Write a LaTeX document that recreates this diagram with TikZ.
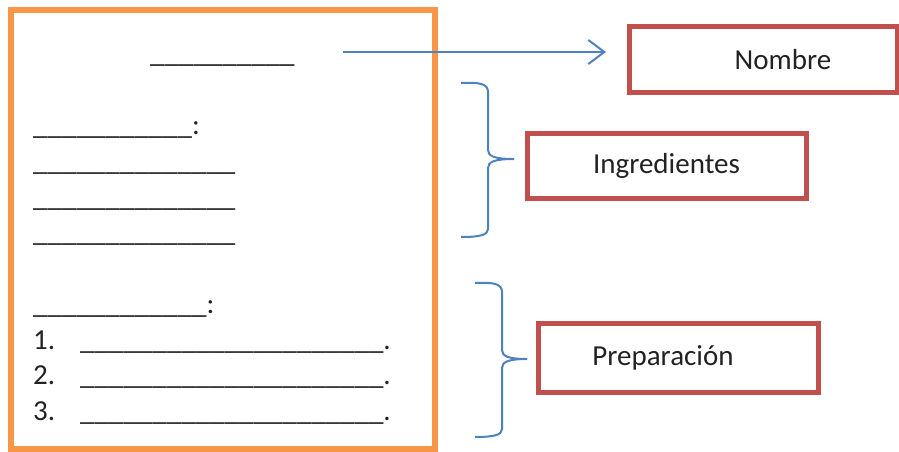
\documentclass[tikz,border=0pt]{standalone}
\usepackage{fontspec}
\setmainfont{Carlito}
\usetikzlibrary{arrows.meta}
\definecolor{frameorange}{HTML}{F79646}
\definecolor{boxred}{HTML}{C0504D}
\definecolor{linkblue}{HTML}{4F81BD}
\definecolor{ink}{HTML}{222222}
\tikzset{
  txt/.style={anchor=base west, inner sep=0pt, text=ink, font=\fontsize{29}{35}\selectfont},
  labelbox/.style={draw=boxred, line width=5pt, inner sep=0pt, text=ink, font=\fontsize{29}{35}\selectfont},
  bracepath/.style={draw=linkblue, line width=2pt},
  linkarrow/.style={draw=linkblue, line width=2pt, -{Straight Barb[length=16pt,width=24pt,line width=2pt]}}
}
\begin{document}
\begin{tikzpicture}[x=1pt,y=-1pt]
\useasboundingbox (0,0) rectangle (899,452);
% recipe sheet
\draw[frameorange, line width=5.5pt] (11,10) rectangle (435,449);
\node[txt] (title) at (150,63) {\_\_\_\_\_\_\_\_\_\_};
\node[txt] (ingh) at (33,134) {\_\_\_\_\_\_\_\_\_\_\_:};
\node[txt] (ing1) at (33,170) {\_\_\_\_\_\_\_\_\_\_\_\_\_\_};
\node[txt] (ing2) at (33,206) {\_\_\_\_\_\_\_\_\_\_\_\_\_\_};
\node[txt] (ing3) at (33,241) {\_\_\_\_\_\_\_\_\_\_\_\_\_\_};
\node[txt] (preph) at (33,313) {\_\_\_\_\_\_\_\_\_\_\_\_:};
\node[txt] (n1) at (33,349) {1.};
\node[txt] (s1) at (80,349) {\_\_\_\_\_\_\_\_\_\_\_\_\_\_\_\_\_\_\_\_\_.};
\node[txt] (n2) at (33,384) {2.};
\node[txt] (s2) at (80,384) {\_\_\_\_\_\_\_\_\_\_\_\_\_\_\_\_\_\_\_\_\_.};
\node[txt] (n3) at (33,420) {3.};
\node[txt] (s3) at (80,420) {\_\_\_\_\_\_\_\_\_\_\_\_\_\_\_\_\_\_\_\_\_.};
% label boxes
\node[labelbox, minimum width=268pt, minimum height=65pt] (nombre) at (763,59.5) {\hspace*{40pt}Nombre};
\node[labelbox, minimum width=279pt, minimum height=65pt] (ingr) at (666.5,165.5) {Ingredientes};
\node[labelbox, minimum width=280pt, minimum height=69pt] (prep) at (678,358) {Preparación\hspace*{30pt}};
% arrow
\coordinate (astart) at (343,52);
\coordinate (aend) at (606,52);
\draw[linkarrow] (astart) -- (aend);
% braces
\coordinate (b1top) at (461,83);
\coordinate (b1tip) at (514,159);
\coordinate (b1bot) at (461,237);
\draw[bracepath] (b1top) .. controls (480,82) and (488,84) .. (488,92) -- (488,150) .. controls (488,156) and (494,159) .. (b1tip);
\draw[bracepath] (b1tip) .. controls (494,159) and (488,162) .. (488,168) -- (488,229) .. controls (488,235) and (480,237) .. (b1bot);
\coordinate (b2top) at (475,283);
\coordinate (b2tip) at (527,359);
\coordinate (b2bot) at (475,437);
\draw[bracepath] (b2top) .. controls (494,282) and (502,284) .. (502,292) -- (502,350) .. controls (502,356) and (508,359) .. (b2tip);
\draw[bracepath] (b2tip) .. controls (508,359) and (502,362) .. (502,368) -- (502,429) .. controls (502,435) and (494,437) .. (b2bot);
\end{tikzpicture}
\end{document}
